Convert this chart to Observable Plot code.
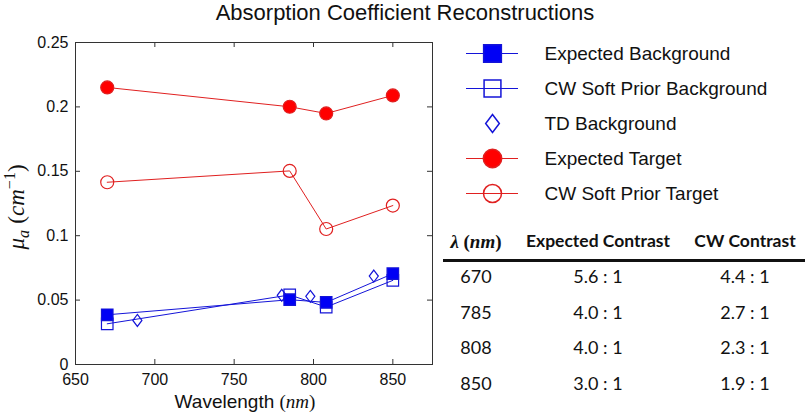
<!DOCTYPE html>
<html><head><meta charset="utf-8">
<script src="https://cdn.jsdelivr.net/npm/d3@7"></script>
<script src="https://cdn.jsdelivr.net/npm/@observablehq/plot@0.6"></script>
<style>
body{margin:0;background:#fff;}
#wrap{position:relative;width:810px;height:418px;overflow:hidden;font-family:"Liberation Sans",Arial,sans-serif;color:#111;}
#title{position:absolute;left:0;top:0;width:810px;text-align:center;font-size:22px;line-height:26px;}
.abs{position:absolute;}
#xlabel{left:45px;width:400px;top:390px;text-align:center;font-size:19px;line-height:24px;}
#ylabel{left:17px;top:207px;transform:translate(-50%,-50%) rotate(-90deg);white-space:nowrap;font-size:23px;line-height:26px;}
.m{font-family:"Liberation Serif","DejaVu Serif",serif;}
.mi{font-family:"Liberation Serif","DejaVu Serif",serif;font-style:italic;}
#legend{left:440px;top:30px;}
#table{left:443px;top:0;width:360px;font-family:Lato,"Open Sans",sans-serif;}
.row{position:absolute;left:0;width:360px;height:26px;line-height:26px;}
.cell{position:absolute;top:0;text-align:center;}
.hdr{font-weight:bold;font-size:17.5px;}
.val{font-size:18px;}
#rule{position:absolute;left:0;width:362px;height:3px;background:#111;top:258.5px;}
</style></head><body><div id="wrap"><div id="title">Absorption Coefficient Reconstructions</div></div>
<script>
// ---- data ----
const wavelengths = [670, 785, 808, 850];
const expectedBackground = [0.0386, 0.0503, 0.0482, 0.0705];
const cwSoftPriorBackground = [0.0316, 0.0540, 0.0446, 0.0653];
const tdWavelengths = [689, 780, 798, 838];
const tdBackground = [0.0342, 0.0537, 0.0529, 0.0687];
const expectedTarget = [0.2151, 0.2001, 0.1949, 0.2089];
const cwSoftPriorTarget = [0.1415, 0.1503, 0.1052, 0.1234];
const seriesNames = ["Expected Background", "CW Soft Prior Background", "TD Background", "Expected Target", "CW Soft Prior Target"];
const xTicks = [650, 700, 750, 800, 850];
const yTicks = [0, 0.05, 0.1, 0.15, 0.2, 0.25];
const tableWavelengths = ["670", "785", "808", "850"];
const expectedContrast = ["5.6 : 1", "4.0 : 1", "4.0 : 1", "3.0 : 1"];
const cwContrast = ["4.4 : 1", "2.7 : 1", "2.3 : 1", "1.9 : 1"];
const tableHeaders = ["Expected Contrast", "CW Contrast"];

// ---- styles ----
const BLUE = "#1414d8", BLUEFILL = "#0000f5", RED = "#e02020", REDFILL = "#ff0000";
const diamond = {draw(ctx, size){ const r = Math.sqrt(size/Math.PI); const h = r*0.95, w = r*0.72;
  ctx.moveTo(0,-h); ctx.lineTo(w,0); ctx.lineTo(0,h); ctx.lineTo(-w,0); ctx.closePath(); }};
const styleOf = {
  "Expected Background": {stroke: BLUE, fill: BLUEFILL, symbol: "square", line: true, r: 6.5, lr: 10},
  "CW Soft Prior Background": {stroke: BLUE, fill: "none", symbol: "square", line: true, r: 6.5, lr: 9.5},
  "TD Background": {stroke: BLUE, fill: "none", symbol: diamond, line: false, r: 6.3, lr: 9.5},
  "Expected Target": {stroke: RED, fill: REDFILL, symbol: "circle", line: true, r: 6.5, lr: 9.2},
  "CW Soft Prior Target": {stroke: RED, fill: "none", symbol: "circle", line: true, r: 6.5, lr: 9}
};
const seriesData = {
  "Expected Background": wavelengths.map((x, i) => ({x, y: expectedBackground[i]})),
  "CW Soft Prior Background": wavelengths.map((x, i) => ({x, y: cwSoftPriorBackground[i]})),
  "TD Background": tdWavelengths.map((x, i) => ({x, y: tdBackground[i]})),
  "Expected Target": wavelengths.map((x, i) => ({x, y: expectedTarget[i]})),
  "CW Soft Prior Target": wavelengths.map((x, i) => ({x, y: cwSoftPriorTarget[i]}))
};

const mL = 75, mR = 8, mT = 42, mB = 54, W = 440, H = 418;
const fw = W - mL - mR, fh = H - mT - mB;
const drawOrder = ["CW Soft Prior Target", "Expected Target", "TD Background", "CW Soft Prior Background", "Expected Background"];
const marks = [];
for (const s of drawOrder) {
  const st = styleOf[s];
  if (st.line) marks.push(Plot.line(seriesData[s], {x: "x", y: "y", stroke: st.stroke, strokeWidth: 1}));
}
for (const s of drawOrder) {
  const st = styleOf[s];
  marks.push(Plot.dot(seriesData[s], {x: "x", y: "y", r: st.r, symbol: st.symbol, stroke: st.stroke, fill: st.fill, strokeWidth: 1.2}));
}
const chart = Plot.plot({
  width: W, height: H, marginLeft: mL, marginRight: mR, marginTop: mT, marginBottom: mB,
  style: {fontFamily: '"Liberation Sans", Arial, sans-serif', fontSize: "16px", color: "#111", background: "transparent"},
  x: {domain: [650, 875], axis: null},
  y: {domain: [0, 0.25], axis: null},
  marks: [
    Plot.tickX(xTicks.slice(1), {x: d => d, insetTop: fh - 5, stroke: "#333"}),
    Plot.tickX(xTicks.slice(1), {x: d => d, insetBottom: fh - 5, stroke: "#333"}),
    Plot.tickY(yTicks.slice(1, -1), {y: d => d, insetRight: fw - 5, stroke: "#333"}),
    Plot.tickY(yTicks.slice(1, -1), {y: d => d, insetLeft: fw - 5, stroke: "#333"}),
    Plot.axisX(xTicks, {anchor: "bottom", tickSize: 0, tickPadding: 9, fontSize: 16, label: null, tickFormat: d => String(d)}),
    Plot.axisY(yTicks, {anchor: "left", tickSize: 0, tickPadding: 7, fontSize: 16, label: null, tickFormat: d => String(d)}),
    ...marks,
    Plot.frame({stroke: "#333", strokeWidth: 1})
  ]
});
chart.style.position = "absolute"; chart.style.left = "0"; chart.style.top = "0";
const wrap = document.getElementById("wrap");
wrap.appendChild(chart);

// axis labels with math styling
const xl = document.createElement("div"); xl.id = "xlabel"; xl.className = "abs";
xl.innerHTML = 'Wavelength <span class="m">(</span><span class="mi">nm</span><span class="m">)</span>';
wrap.appendChild(xl);
const yl = document.createElement("div"); yl.id = "ylabel"; yl.className = "abs";
yl.innerHTML = '<span class="mi">μ<sub style="font-size:16px">a</sub></span> <span class="m">(</span><span class="mi">cm</span><sup class="m" style="font-size:16px">−1</sup><span class="m">)</span>';
wrap.appendChild(yl);

// legend
const legendMarks = [];
seriesNames.forEach(s => {
  const st = styleOf[s];
  if (st.line) legendMarks.push(Plot.ruleY([s], {y: d => d, x1: () => 0, x2: () => 1, stroke: st.stroke, strokeWidth: 1}));
  legendMarks.push(Plot.dot([s], {y: d => d, x: () => 0.5, r: st.lr, symbol: st.symbol, stroke: st.stroke, fill: st.fill, strokeWidth: 1.5}));
});
legendMarks.push(Plot.text(seriesNames, {y: d => d, x: () => 1.5, text: d => d, textAnchor: "start", fontSize: 19, fill: "#111"}));
const legend = Plot.plot({
  width: 370, height: 190, margin: 0,
  style: {fontFamily: '"Liberation Sans", Arial, sans-serif', background: "transparent"},
  x: {domain: [0, 1], range: [26, 78], axis: null},
  y: {type: "point", domain: seriesNames, range: [21.7, 165], padding: 0, axis: null},
  marks: legendMarks
});
legend.id = "legend"; legend.classList.add("abs");
wrap.appendChild(legend);

// contrast table
const table = document.createElement("div"); table.id = "table"; table.className = "abs";
wrap.appendChild(table);
const cols = [{left: 0, width: 66}, {left: 66, width: 178}, {left: 244, width: 116}];
const hdr = document.createElement("div"); hdr.className = "row"; hdr.style.top = (241 - 13) + "px";
hdr.innerHTML = `<div class="cell hdr" style="left:0;width:66px;font-size:19px"><span class="m" style="font-weight:bold;font-style:italic">λ</span> <span class="m" style="font-weight:bold">(</span><span class="mi" style="font-weight:bold">nm</span><span class="m" style="font-weight:bold">)</span></div>`
  + tableHeaders.map((h, j) => `<div class="cell hdr" style="left:${cols[j+1].left}px;width:${cols[j+1].width}px">${h}</div>`).join("");
table.appendChild(hdr);
const rl = document.createElement("div"); rl.id = "rule"; table.appendChild(rl);
tableWavelengths.forEach((w, i) => {
  const r = document.createElement("div"); r.className = "row";
  r.style.top = (276 + i * 35.6 - 13) + "px";
  const vals = [w, expectedContrast[i], cwContrast[i]];
  r.innerHTML = vals.map((v, j) => `<div class="cell val" style="left:${cols[j].left}px;width:${cols[j].width}px">${v}</div>`).join("");
  table.appendChild(r);
});
</script></body></html>
